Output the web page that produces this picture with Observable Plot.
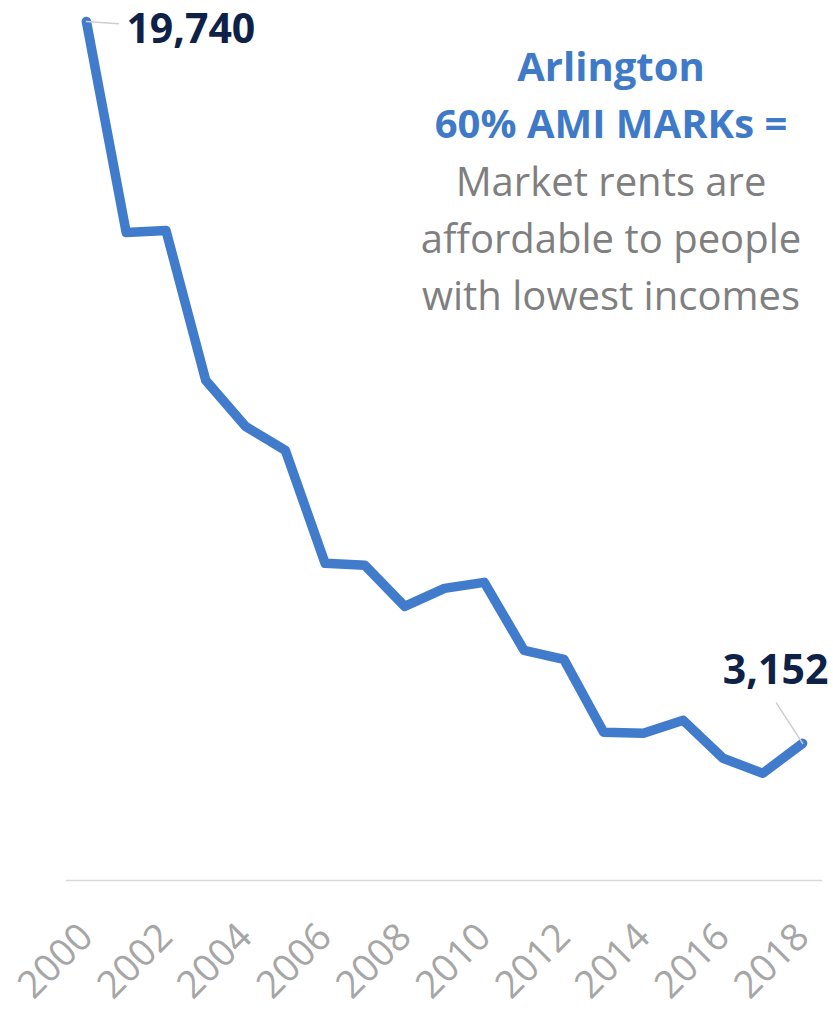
<!DOCTYPE html>
<html>
<head>
<meta charset="utf-8">
<script src="https://cdn.jsdelivr.net/npm/d3@7"></script>
<script src="https://cdn.jsdelivr.net/npm/@observablehq/plot@0.6"></script>
<style>
  html, body { margin: 0; padding: 0; background: #fff; }
  svg { display: block; font-family: "Open Sans", Lato, sans-serif; }
</style>
</head>
<body>
<div id="chart"></div>
<script>
const years = [2000, 2001, 2002, 2003, 2004, 2005, 2006, 2007, 2008, 2009,
               2010, 2011, 2012, 2013, 2014, 2015, 2016, 2017, 2018];
const marks = [19740, 14892, 14938, 11492, 10435, 9884, 7288, 7242, 6300, 6713,
               6851, 5289, 5082, 3405, 3382, 3681, 2808, 2463, 3152];
const tickYears = [2000, 2002, 2004, 2006, 2008, 2010, 2012, 2014, 2016, 2018];
const titleLines = ["Arlington", "60% AMI MARKs ="];
const noteLines = ["Market rents are", "affordable to people", "with lowest incomes"];

const data = years.map((year, i) => ({year, value: marks[i]}));
const first = [data[0]];
const last = [data[data.length - 1]];
const fmt = d3.format(",");

const leader = {
  draw(context, l) { context.moveTo(0, 0); context.lineTo(0, -l); }
};

const chart = Plot.plot({
  width: 833,
  height: 1013,
  marginLeft: 66,
  marginRight: 11,
  marginTop: 0,
  marginBottom: 133,
  x: {domain: [1999.5, 2018.5]},
  y: {domain: [0, 19740], range: [880, 21], axis: null},
  marks: [
    Plot.ruleY([0], {stroke: "#d9d9d9", strokeWidth: 1.5}),
    Plot.axisX(tickYears, {
      tickSize: 0, tickRotate: -45, tickPadding: 50, tickFormat: d => String(d),
      fontSize: 38, fill: "#a6a6a6", label: null
    }),
    Plot.line(data, {x: "year", y: "value", stroke: "#417bcb", strokeWidth: 9.5,
      strokeLinejoin: "round", strokeLinecap: "round"}),
    Plot.vector(first, {x: "year", y: "value", length: 32, rotate: 94, anchor: "start",
      shape: leader, stroke: "#cfcfcf", strokeWidth: 1.5}),
    Plot.vector(last, {x: "year", y: "value", length: 48, rotate: -33, anchor: "start",
      shape: leader, stroke: "#cfcfcf", strokeWidth: 1.5}),
    Plot.text(first, {x: "year", y: "value", text: d => fmt(d.value), textAnchor: "start",
      lineAnchor: "middle", dx: 40, dy: 8, fontSize: 41, fontWeight: "bold", fill: "#0e2147"}),
    Plot.text(last, {x: "year", y: "value", text: d => fmt(d.value), textAnchor: "middle",
      lineAnchor: "middle", dx: -27, dy: -72, fontSize: 41, fontWeight: "bold", fill: "#0e2147"}),
    Plot.text([titleLines.join("\n")], {frameAnchor: "top", lineAnchor: "top",
      dx: 166.5, dy: 40, lineHeight: 1.425, fontSize: 40, fontWeight: "bold", fill: "#3f7ac9"}),
    Plot.text([noteLines.join("\n")], {frameAnchor: "top", lineAnchor: "top",
      dx: 166.5, dy: 155, lineHeight: 1.425, fontSize: 40, fill: "#7f7f7f"})
  ]
});
document.getElementById("chart").appendChild(chart);
</script>
</body>
</html>
